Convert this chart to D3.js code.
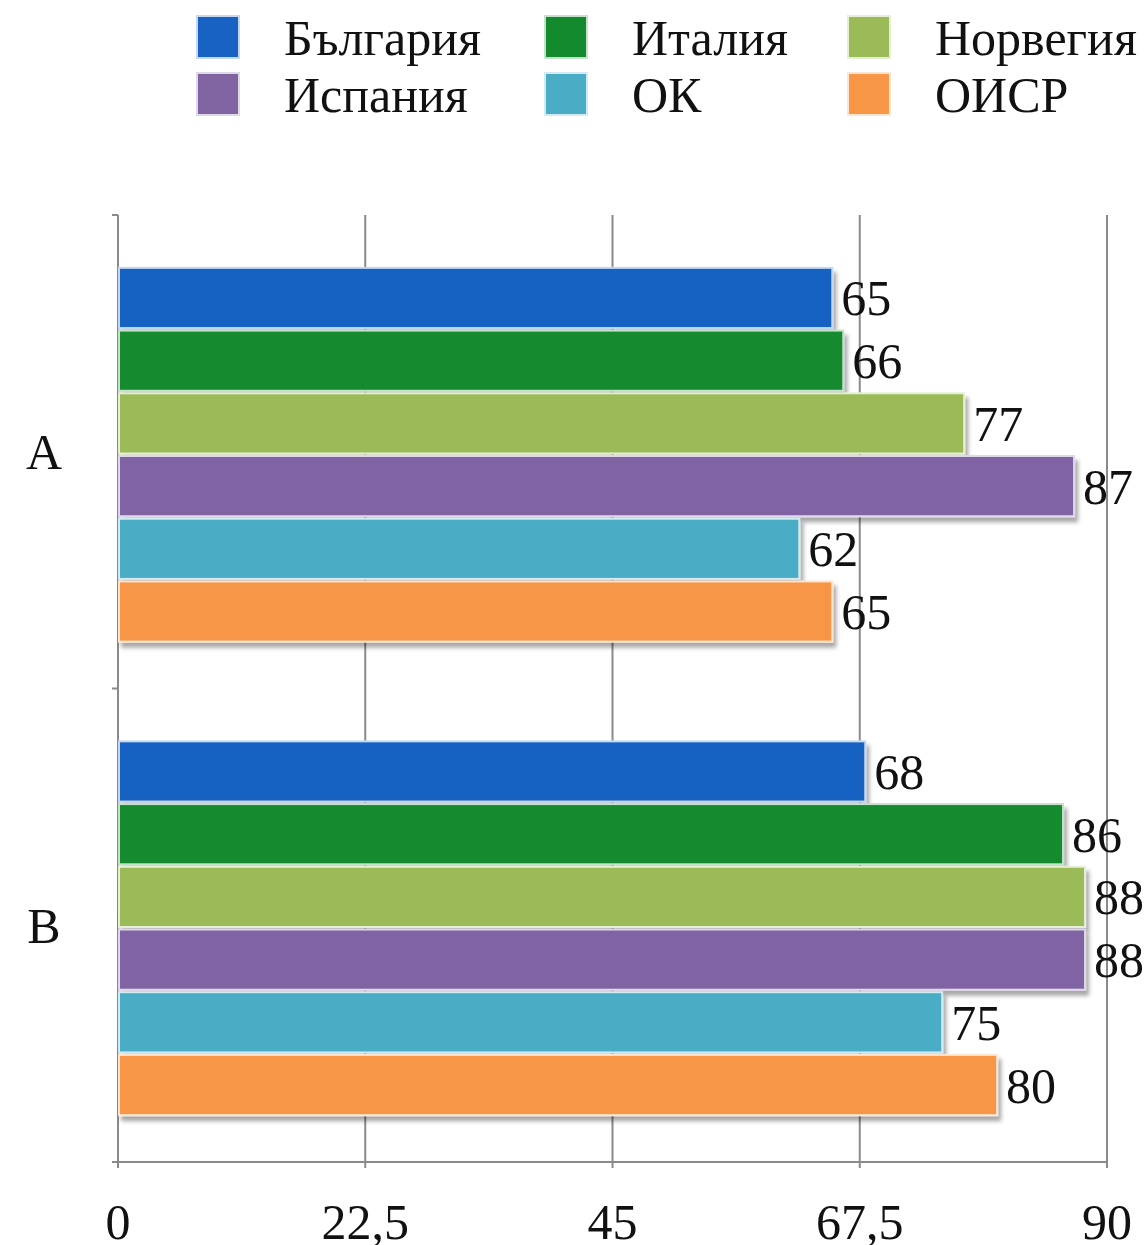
<!DOCTYPE html>
<meta charset="utf-8">
<style>
    body { margin: 0; background: #fff; }
    .label { font-family: 'Liberation Serif', serif; font-size: 50px; fill: #111; }
    .grid line { stroke: #8a8a8a; stroke-width: 2px; }
    .axis-line { stroke: #8a8a8a; stroke-width: 2px; fill: none; }
</style>
<body>
<div id="chart"></div>
<script src="https://d3js.org/d3.v7.min.js"></script>
<script>
    var categories = ["A", "B"];
    var seriesNames = ["България", "Италия", "Норвегия", "Испания", "ОК", "ОИСР"];
    var seriesColors = ["#1762C2", "#148A2F", "#9BBB59", "#8064A2", "#4BACC6", "#F79646"];
    var valuesA = [65, 66, 77, 87, 62, 65];
    var valuesB = [68, 86, 88, 88, 75, 80];
    var xTicks = [0, 22.5, 45, 67.5, 90];

    var width = 1146, height = 1245;
    var plotLeft = 118, plotRight = 1107, plotTop = 215, plotBottom = 1162;

    var svg = d3.select("#chart").append("svg")
        .attr("width", width)
        .attr("height", height);

    var defs = svg.append("defs");
    var f = defs.append("filter").attr("id", "shadow")
        .attr("x", "-5%").attr("y", "-20%").attr("width", "110%").attr("height", "150%");
    f.append("feDropShadow")
        .attr("dx", 3).attr("dy", 5).attr("stdDeviation", 2)
        .attr("flood-color", "#000").attr("flood-opacity", 0.35);

    var x = d3.scaleLinear().domain([0, 90]).range([plotLeft, plotRight]);
    var y0 = d3.scaleBand().domain(categories).range([plotTop, plotBottom]).paddingInner(0.2).paddingOuter(0.1);
    var y1 = d3.scaleBand().domain(d3.range(seriesNames.length)).range([0, y0.bandwidth()]).padding(0.04);

    // gridlines
    svg.append("g").attr("class", "grid")
        .selectAll("line")
        .data(xTicks.slice(1))
        .enter().append("line")
        .attr("x1", d => x(d)).attr("x2", d => x(d))
        .attr("y1", plotTop).attr("y2", plotBottom + 6);

    // axis lines
    svg.append("path").attr("class", "axis-line")
        .attr("d", "M" + plotLeft + "," + plotTop + "V" + plotBottom + "H" + plotRight);
    svg.append("line").attr("class", "axis-line")
        .attr("x1", plotLeft).attr("x2", plotLeft).attr("y1", plotBottom).attr("y2", plotBottom + 6);
    // category boundary ticks
    var catBounds = [plotTop, (plotTop + plotBottom) / 2, plotBottom];
    svg.selectAll(".cat-tick").data(catBounds).enter().append("line")
        .attr("class", "axis-line")
        .attr("x1", plotLeft - 6).attr("x2", plotLeft)
        .attr("y1", d => d).attr("y2", d => d);

    var data = categories.map((c, i) => ({
        cat: c,
        values: (i === 0 ? valuesA : valuesB).map((v, j) => ({ s: j, v: v }))
    }));

    var groups = svg.selectAll(".group")
        .data(data)
        .enter().append("g")
        .attr("transform", d => "translate(0," + (y0(d.cat) + 3) + ")");

    groups.selectAll("rect")
        .data(d => d.values)
        .enter().append("rect")
        .attr("x", x(0) + 1)
        .attr("y", d => y1(d.s))
        .attr("width", d => x(d.v) - x(0) - 1)
        .attr("height", y1.bandwidth())
        .attr("fill", d => seriesColors[d.s])
        .attr("stroke", d => d3.interpolateRgb(seriesColors[d.s], "#fff")(0.75))
        .attr("stroke-width", 2)
        .attr("filter", "url(#shadow)");

    groups.selectAll(".val")
        .data(d => d.values)
        .enter().append("text")
        .attr("class", "label")
        .attr("x", d => x(d.v) + 9)
        .attr("y", d => y1(d.s) + y1.bandwidth() / 2)
        .attr("dy", "0.35em")
        .text(d => d.v);

    // category labels
    svg.selectAll(".cat")
        .data(categories)
        .enter().append("text")
        .attr("class", "label")
        .attr("x", 44)
        .attr("y", d => y0(d) + y0.bandwidth() / 2)
        .attr("dy", "0.35em")
        .attr("text-anchor", "middle")
        .text(d => d);

    // x tick labels
    var fmt = d => String(d).replace(".", ",");
    svg.selectAll(".xt")
        .data(xTicks)
        .enter().append("text")
        .attr("class", "label")
        .attr("x", d => x(d))
        .attr("y", 1239)
        .attr("text-anchor", "middle")
        .text(fmt);

    // legend
    var legendX = [197, 545, 848];
    var legendY = [16, 73];
    var leg = svg.selectAll(".leg")
        .data(seriesNames)
        .enter().append("g")
        .attr("transform", (d, i) => "translate(" + legendX[i % 3] + "," + legendY[Math.floor(i / 3)] + ")");
    leg.append("rect")
        .attr("width", 42).attr("height", 42)
        .attr("fill", (d, i) => seriesColors[i])
        .attr("stroke", (d, i) => d3.interpolateRgb(seriesColors[i], "#fff")(0.75))
        .attr("stroke-width", 2);
    leg.append("text")
        .attr("class", "label")
        .attr("x", 87)
        .attr("y", 21)
        .attr("dy", "0.35em")
        .text(d => d);
</script>
</body>
